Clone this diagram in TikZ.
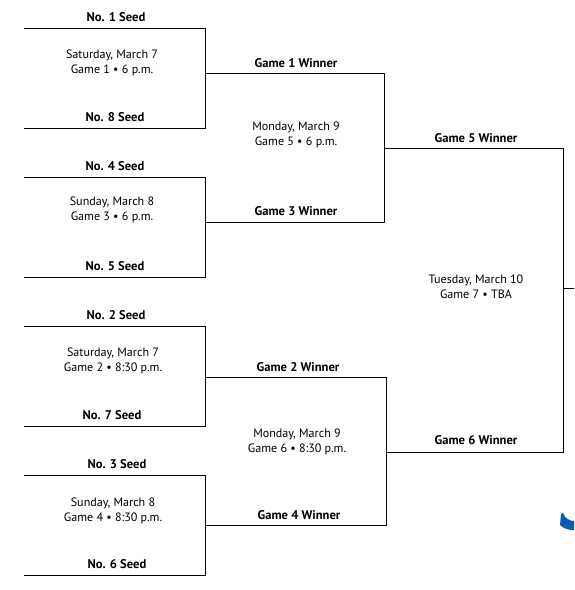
\documentclass[tikz,border=0pt]{standalone}
\usepackage{fontspec}
\setmainfont{PT Sans}
\usetikzlibrary{calc}
\definecolor{logoblue}{HTML}{0A5CB0}

\tikzset{
  seed/.style={font=\bfseries\fontsize{12.6}{14}\selectfont},
  info/.style={align=center, font=\fontsize{12.1}{15}\selectfont},
}

\begin{document}
\begin{tikzpicture}[x=1pt, y=-1pt, line width=1pt]
\useasboundingbox (0,0) rectangle (574,590);
%\draw (0,0) rectangle (574,590);

% first round, left ends of the seed lines
\coordinate (s1) at (24,28);
\coordinate (s8) at ($(s1) + (0,100)$);
\coordinate (s4) at (24,177);
\coordinate (s5) at ($(s4) + (0,100)$);
\coordinate (s2) at (24,326);
\coordinate (s7) at ($(s2) + (0,100)$);
\coordinate (s3) at (24,475);
\coordinate (s6) at ($(s3) + (0,100)$);

% winners of the first round
\coordinate (w1) at (205,73);
\coordinate (w3) at (205,222);
\coordinate (w2) at (205,377);
\coordinate (w4) at (205,525);

% winners of the second round
\coordinate (w5) at (384,148);
\coordinate (w6) at (386,452);

% final
\coordinate (fin) at (563,288);


\draw (s1) -- (s1 -| w1) -- (s8 -| w1) -- (s8);
\draw (s4) -- (s4 -| w3) -- (s5 -| w3) -- (s5);
\draw (s2) -- (s2 -| w2) -- (s7 -| w2) -- (s7);
\draw (s3) -- (s3 -| w4) -- (s6 -| w4) -- (s6);

\draw (w1) -- (w1 -| w5) -- (w3 -| w5) -- (w3);
\draw (w2) -- (w2 -| w6) -- (w4 -| w6) -- (w4);

\draw (w5) -- (w5 -| fin) -- (w6 -| fin) -- (w6);
\draw (fin) -- ++(11,0);

\node (n1) [seed] at ($(s1) + (92,-11)$) {No. 1 Seed};
\node (n8) [seed] at ($(s8) + (91,-11)$) {No. 8 Seed};
\node (n4) [seed] at ($(s4) + (91,-11)$) {No. 4 Seed};
\node (n5) [seed] at ($(s5) + (91,-11)$) {No. 5 Seed};
\node (n2) [seed] at ($(s2) + (92,-11)$) {No. 2 Seed};
\node (n7) [seed] at ($(s7) + (88,-11)$) {No. 7 Seed};
\node (n3) [seed] at ($(s3) + (93,-11)$) {No. 3 Seed};
\node (n6) [seed] at ($(s6) + (93,-11)$) {No. 6 Seed};

\node (g1) [info] at ($(s1) + (88,34.5)$) {Saturday, March 7\\Game 1 \textbullet\ 6 p.m.};
\node (g3) [info] at ($(s4) + (88,33)$) {Sunday, March 8\\Game 3 \textbullet\ 6 p.m.};
\node (g2) [info] at ($(s2) + (89,34.5)$) {Saturday, March 7\\Game 2 \textbullet\ 8:30 p.m.};
\node (g4) [info] at ($(s3) + (89,35.5)$) {Sunday, March 8\\Game 4 \textbullet\ 8:30 p.m.};

\node (l1) [seed] at ($(w1) + (91,-10)$) {Game 1 Winner};
\node (l3) [seed] at ($(w3) + (91,-11)$) {Game 3 Winner};
\node (l2) [seed] at ($(w2) + (93,-10)$) {Game 2 Winner};
\node (l4) [seed] at ($(w4) + (94,-10)$) {Game 4 Winner};
\node (l5) [seed] at ($(w5) + (92,-10)$) {Game 5 Winner};
\node (l6) [seed] at ($(w6) + (90,-12)$) {Game 6 Winner};

\node (g5) [info] at ($(w1) + (91,61.5)$) {Monday, March 9\\Game 5 \textbullet\ 6 p.m.};
\node (g6) [info] at ($(w2) + (92,64.5)$) {Monday, March 9\\Game 6 \textbullet\ 8:30 p.m.};
\node (g7) [info] at ($(w5) + (92,138.5)$) {Tuesday, March 10\\Game 7 \textbullet\ TBA};

% cut-off logo at the edge
\fill [logoblue] (561,514) -- (560,525) .. controls (564,529) and (569,530) .. (574,530)
  -- (574,521) .. controls (569,521) and (565,518) .. (563,513) -- cycle;

\end{tikzpicture}
\end{document}
